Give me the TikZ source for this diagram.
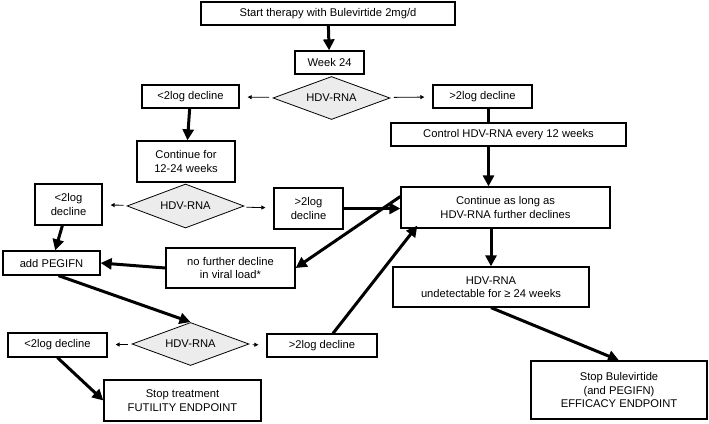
\documentclass[tikz,border=0pt]{standalone}
\usepackage{fontspec}
\setmainfont{Liberation Sans}
\usetikzlibrary{shapes.geometric,arrows.meta}

\begin{document}
\begin{tikzpicture}[x=1pt,y=-1pt,
  box/.style={draw,line width=1.3pt,inner sep=0pt,align=center,font=\fontsize{11.2}{13.5}\selectfont},
  test/.style={diamond,draw,line width=0.8pt,fill=gray!15,inner sep=0pt,aspect=2.8,minimum width=117pt,minimum height=43pt,font=\fontsize{11.2}{13.5}\selectfont},
  bigarrow/.style={line width=3pt,-{Triangle[length=11pt,width=11pt]}},
  smallarrow/.style={line width=0.8pt,-{Triangle[length=4pt,width=4pt]},shorten <=5pt,shorten >=8pt}]
\useasboundingbox (0,0) rectangle (709,423);
\node[box,minimum width=254pt,minimum height=23pt] (start) at (328,13.5) {Start therapy with Bulevirtide 2mg/d};
\node[box,minimum width=69pt,minimum height=23pt] (week) at (329.5,62.5) {Week 24};
\node[test] (test1) at (331.5,98) {HDV-RNA};
\node[box,minimum width=97pt,minimum height=23pt] (less1) at (190.5,96.5) {<2log decline};
\node[box,minimum width=99pt,minimum height=23pt] (more1) at (482.5,96.5) {>2log decline};
\node[box,minimum width=235pt,minimum height=23pt] (control) at (508.5,134.5) {Control HDV-RNA every 12 weeks};
\node[box,minimum width=98pt,minimum height=41pt] (cont12) at (186,161.5) {Continue for\\12-24 weeks};
\node[box,minimum width=209pt,minimum height=41pt] (contlong) at (505.5,207.5) {Continue as long as\\HDV-RNA further declines};
\node[test,minimum height=44pt] (test2) at (185.5,206) {HDV-RNA};
\node[box,minimum width=67pt,minimum height=41pt] (less2) at (68.5,204.5) {<2log\\decline};
\node[box,minimum width=69pt,minimum height=41pt] (more2) at (308.5,208.5) {>2log\\decline};
\node[box,minimum width=97pt,minimum height=24pt] (pegifn) at (51.5,263) {add PEGIFN};
\node[box,minimum width=129pt,minimum height=40pt] (nofurther) at (230.5,268) {no further decline\\in viral load*};
\node[box,minimum width=196pt,minimum height=40pt] (undet) at (491,287) {HDV-RNA\\undetectable for ≥ 24 weeks};
\node[test] (test3) at (190.5,344) {HDV-RNA};
\node[box,minimum width=99pt,minimum height=24pt] (less3) at (57.5,345) {<2log decline};
\node[box,minimum width=110pt,minimum height=23pt] (more3) at (322,345.5) {>2log decline};
\node[box,minimum width=157pt,minimum height=41pt] (stopfut) at (182.5,400.5) {Stop treatment\\FUTILITY ENDPOINT};
\node[box,minimum width=176pt,minimum height=58pt] (stopeff) at (619,390) {Stop Bulevirtide\\(and PEGIFN)\\EFFICACY ENDPOINT};

\draw[bigarrow] (start) -- (week);
\draw[smallarrow] (test1) -- (less1);
\draw[smallarrow] (test1) -- (more1);
\draw[bigarrow] (less1) -- (cont12);
\draw[line width=3pt] ([xshift=6pt]more1.south) -- ([xshift=6pt]more1.south |- control.north);
\draw[bigarrow] ([xshift=-20pt]control.south) -- ([xshift=-20pt]control.south |- contlong.north);
\draw[smallarrow] (test2) -- (less2);
\draw[smallarrow] (test2) -- (more2);
\draw[bigarrow] (less2) -- (pegifn);
\draw[bigarrow] (more2) -- (more2 -| contlong.west);
\draw[bigarrow] ([yshift=11pt]contlong.west) -- (nofurther.east);
\draw[bigarrow] (nofurther.west) -- (pegifn.east);
\draw[bigarrow] ([xshift=7pt]pegifn.south) -- (test3.north);
\draw[smallarrow] (test3) -- (less3);
\draw[smallarrow] (test3) -- (more3);
\draw[bigarrow] ([xshift=11pt]more3.north) -- ([xshift=17pt,yshift=3pt]contlong.south west);
\draw[bigarrow] (less3.south) -- (stopfut.west);
\draw[bigarrow] (undet.north |- contlong.south) -- (undet.north);
\draw[bigarrow] (undet.south) -- (stopeff.north);
\end{tikzpicture}
\end{document}
